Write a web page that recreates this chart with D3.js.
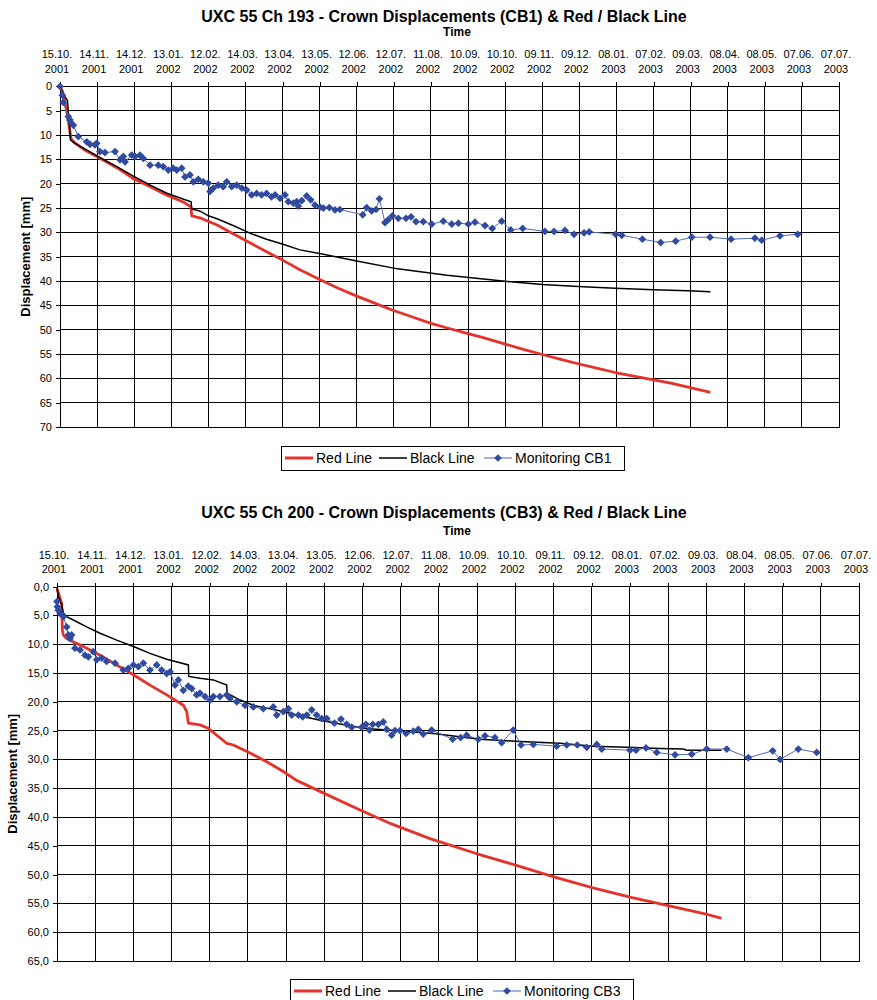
<!DOCTYPE html>
<html>
<head>
<meta charset="utf-8">
<script src="https://cdn.jsdelivr.net/npm/d3@7"></script>
<style>
body { margin: 0; background: #fff; }
svg text { font-family: "Liberation Sans", Arial, sans-serif; fill: #000; }
</style>
</head>
<body>
<div id="my_dataviz"></div>
<script>
// x axis: one tick every 30 days
var startDate = "2001-10-15";
var tickDates = ["2001-10-15", "2001-11-14", "2001-12-14", "2002-01-13", "2002-02-12",
  "2002-03-14", "2002-04-13", "2002-05-13", "2002-06-12", "2002-07-12", "2002-08-11",
  "2002-09-10", "2002-10-10", "2002-11-09", "2002-12-09", "2003-01-08", "2003-02-07",
  "2003-03-09", "2003-04-08", "2003-05-08", "2003-06-07", "2003-07-07"];
var yTicks1 = [0, 5, 10, 15, 20, 25, 30, 35, 40, 45, 50, 55, 60, 65, 70];
var yTicks2 = [0, 5, 10, 15, 20, 25, 30, 35, 40, 45, 50, 55, 60, 65];

// * Ch 193 / CB1  (days after 15.10.2001, displacement in mm)
var redDays1 = [0, 2, 5, 7, 9, 12, 19, 32, 46, 59, 73, 86, 100, 106, 106.5, 113, 127, 140, 154, 167,
  180, 194, 210, 225, 241, 255, 268, 285, 300, 314, 327, 343, 358, 374, 390, 405, 419, 434, 449, 465,
  480, 494, 508, 526];
var redMm1 = [0, 1, 4.5, 7.5, 10.8, 11.6, 12.9, 14.7, 16.7, 18.9, 20.6, 22.3, 23.8, 24.8, 26.6, 27.0, 28.5, 30.3, 32.2, 34.0,
  35.7, 37.7, 39.7, 41.5, 43.2, 44.6, 45.9, 47.4, 48.7, 49.7, 50.6, 51.7, 52.8, 54.0, 55.1, 56.1, 57.0, 57.9, 58.8, 59.6,
  60.3, 61.0, 61.8, 62.9];

var blackDays1 = [0, 1, 4, 6, 8.5, 12, 19, 32, 46, 59, 73, 86, 100, 106, 106.5, 113, 120, 127, 140, 154,
  167, 181, 194, 211, 240, 273, 313, 358, 390, 419, 449, 480, 508, 526];
var blackMm1 = [0, 0.6, 2.1, 2.9, 11.0, 11.7, 12.7, 14.6, 16.5, 18.4, 20.3, 21.9, 23.2, 23.7, 25.2, 25.6, 26.6, 27.2, 28.6, 30.2,
  31.4, 32.5, 33.6, 34.4, 35.9, 37.5, 38.8, 40.0, 40.7, 41.1, 41.5, 41.8, 42.0, 42.2];

var cb1Days = [0, 1.9, 2.7, 6.7, 8, 9.4, 10.8, 14.8, 21.6, 24.3, 28.3, 29.7, 32.3, 36.4, 44.5, 48.5, 51.2, 52.6,
  58, 60.7, 64.7, 67.4, 72.8, 79.5, 83.5, 87.6, 91.6, 94.4, 98.4, 101.1, 105.1, 107.8, 111.8, 115.9, 119.9,
  121.3, 124, 128, 132, 134.8, 138.9, 142.9, 147, 151, 155, 159, 163, 167, 171, 174, 178, 182, 184.6, 188.7,
  191.4, 192.7, 195.5, 199.5, 202.7, 206.2, 210.3, 213, 217.8, 222.4, 226.4, 244.8, 248, 252, 255.6, 258.3,
  262.8, 265.5, 268.8, 273.6, 279.8, 283.9, 287.9, 293.8, 300.6, 310, 316.8, 322.2, 330.2, 335.6, 343.7,
  349.6, 357.2, 364.5, 374.2, 392.2, 399.5, 408.4, 415.7, 423.8, 428, 449.4, 454.3, 471, 485.8, 497.9,
  510.9, 525.7, 542.7, 562, 567.5, 582.3, 596.6];
var cb1Mm = [0, 1.8, 3.3, 6.2, 6.9, 7.6, 8.0, 10.3, 11.4, 11.9, 12.0, 11.7, 13.4, 13.6, 13.4, 15.1, 14.4, 15.5,
  14.1, 14.4, 14.1, 14.8, 16.2, 16.2, 16.5, 17.2, 16.8, 17.2, 16.8, 18.6, 18.2, 19.6, 19.1, 19.6, 19.9,
  21.6, 20.9, 20.3, 20.6, 19.6, 20.6, 20.3, 20.9, 21.3, 22.3, 22.0, 22.3, 22.0, 22.7, 22.3, 23.0, 22.3, 23.7, 24.0,
  23.7, 24.6, 23.5, 22.5, 23.3, 24.4, 24.8, 25.0, 24.9, 25.4, 25.3, 26.4, 24.9, 25.6, 25.3, 23.1,
  28.0, 27.4, 26.6, 27.1, 27.1, 26.8, 27.8, 27.8, 28.3, 27.7, 28.3, 28.1, 28.3, 27.9, 28.6,
  29.2, 27.7, 29.5, 29.2, 29.8, 29.8, 29.6, 30.4, 30.1, 29.9, 30.4, 30.6, 31.4, 32.1, 31.8,
  31.0, 31.0, 31.4, 31.2, 31.6, 30.7, 30.4];

// * Ch 200 / CB3
var redDays2 = [0, 2.4, 3.7, 4.2, 5, 7.6, 12.8, 20.7, 33.8, 46.9, 60, 73, 86.2, 99.3, 101.9, 103.2, 112.3, 118.8,
  133.3, 138.5, 151.6, 164.7, 177.8, 187.8, 209.9, 236.3, 262.7, 293.5, 328.7, 359.5, 390.3, 421, 451.8,
  482.7, 509, 522];
var redMm2 = [0.3, 2.0, 2.9, 7.5, 8.4, 9.0, 9.6, 10.4, 11.9, 13.6, 15.3, 17.1, 18.8, 20.6, 21.7, 23.7, 24.0, 24.6,
  27.2, 27.5, 28.9, 30.4, 32.1, 33.6, 35.9, 38.6, 41.2, 43.8, 46.3, 48.3, 50.4, 52.3, 54.0,
  55.5, 56.8, 57.6];

var blackDays2 = [0, 1, 3.7, 5, 7.6, 15.5, 23.3, 33.8, 46.9, 60, 73, 86.2, 103.2, 103.5, 112.3, 122.8, 133.3, 133.6,
  143.8, 154.2, 164.7, 177.8, 188.3, 206.6, 240.6, 295.6, 332.3, 363.7, 395, 421.3, 447.5, 473.7, 492, 494.6, 522];
var blackMm2 = [0.3, 1.7, 3.2, 4.6, 5.2, 6.1, 7.0, 8.1, 9.3, 10.4, 11.6, 12.6, 13.6, 15.6, 15.9, 16.2, 17.1, 18.5,
  19.7, 20.6, 21.1, 21.7, 22.3, 23.2, 24.6, 25.5, 26.5, 26.9, 27.2, 27.7, 27.9, 28.1, 28.2, 28.4, 28.4];

var cb3Days = [0, 0.3, 1, 2.4, 3.7, 5, 7.6, 8.9, 10.2, 11.5, 14.1, 18.1, 22, 24.6, 28.5, 31.2, 35.1, 39, 45.6,
  52.1, 56, 60, 63.9, 67.8, 73, 78.3, 82.2, 86.2, 88.8, 92.7, 95.3, 99.2, 103.1, 105.8, 109.7, 112.3, 116.3,
  120.2, 122.8, 128, 133.3, 135.9, 141.2, 147.7, 154.2, 162.1, 169.9, 172.6, 177.8, 181.7, 184.4, 189.6, 193,
  196.2, 200.1, 204, 208, 211.9, 217.9, 223.1, 227.6, 231.5, 239.4, 242.7, 245.4, 248, 252.4, 256.3, 259,
  262.9, 265.5, 269.4, 274.2, 279.9, 283.8, 287.7, 294.3, 310.8, 317.1, 321.8, 330.9, 336.2, 344, 349.3,
  358.4, 364.5, 374.2, 392.5, 400.4, 408.7, 416.1, 424, 427.9, 450.1, 454.8, 462.7, 471.1, 485.5, 498.6,
  510.4, 526.1, 543.1, 562.2, 568, 582.3, 596.8];
var cb3Mm = [2.6, 3.5, 4.1, 4.6, 4.9, 5.2, 7.0, 8.4, 9.0, 8.4, 10.7, 11.0, 11.9, 12.2, 11.3, 12.7, 12.4, 13.0, 13.3,
  14.5, 14.2, 13.6, 13.9, 13.3, 14.5, 13.6, 14.5, 15.1, 14.8, 17.1, 16.2, 18.0, 17.3, 17.7, 18.8, 18.5, 19.1,
  19.7, 19.1, 19.1, 18.8, 19.4, 20.0, 20.6, 20.9, 21.2, 20.9, 22.3, 21.7, 21.2, 22.3, 22.3, 22.6,
  22.3, 21.4, 22.3, 22.9, 22.9, 23.7, 23.0, 23.9, 24.4, 24.4, 23.9, 24.9, 23.9, 23.9, 23.5, 24.8,
  25.8, 25.0, 25.0, 25.5, 25.1, 24.8, 25.6, 24.9, 26.5, 26.2, 25.8, 26.5, 25.9, 26.2, 27.1,
  24.9, 27.5, 27.4, 27.7, 27.5, 27.5, 27.9, 27.4, 28.2, 28.4, 28.4, 28.0, 28.8, 29.2, 29.1,
  28.2, 28.2, 29.7, 28.5, 30.0, 28.2, 28.8];

var RED = "#e5322a", BLUE = "#2f4a9f", BLUE_LINE = "#5069bb";

var svg = d3.select("#my_dataviz")
  .append("svg")
  .attr("width", 877)
  .attr("height", 1000);

var parse = d3.utcParse("%Y-%m-%d");
var t0 = parse(startDate);
function toDate(d) { return new Date(t0.getTime() + d * 864e5); }

function drawChart(cfg) {
  var g = svg.append("g");
  var xTicks = tickDates.map(parse);

  var x = d3.scaleUtc()
    .domain([xTicks[0], xTicks[xTicks.length - 1]])
    .range([cfg.left, cfg.right]);
  var y = d3.scaleLinear()
    .domain([0, cfg.yTicks[cfg.yTicks.length - 1]])
    .range([cfg.top, cfg.bottom]);

  // grid
  g.append("g").selectAll("line").data(xTicks).join("line")
    .attr("x1", d => x(d)).attr("x2", d => x(d))
    .attr("y1", cfg.top).attr("y2", cfg.bottom)
    .attr("stroke", "#000").attr("shape-rendering", "crispEdges");
  g.append("g").selectAll("line").data(cfg.yTicks).join("line")
    .attr("x1", cfg.left).attr("x2", cfg.right)
    .attr("y1", d => y(d)).attr("y2", d => y(d))
    .attr("stroke", "#000").attr("shape-rendering", "crispEdges");

  // axes
  var xAxis = g.append("g")
    .attr("transform", "translate(0," + cfg.top + ")")
    .call(d3.axisTop(x).tickValues(xTicks).tickSize(4).tickSizeOuter(0).tickFormat(""));
  xAxis.select(".domain").remove();
  xAxis.selectAll("line").attr("shape-rendering", "crispEdges");

  var yAxis = g.append("g")
    .attr("transform", "translate(" + cfg.left + ",0)")
    .call(d3.axisLeft(y).tickValues(cfg.yTicks).tickSize(4).tickSizeOuter(0).tickPadding(4)
      .tickFormat(cfg.yFormat));
  yAxis.select(".domain").remove();
  yAxis.selectAll("line").attr("shape-rendering", "crispEdges");
  yAxis.selectAll("text").style("font-size", "11px").attr("fill", "#000");

  var fmtDay = d3.utcFormat("%d.%m."), fmtYear = d3.utcFormat("%Y");
  var lab = g.append("g").selectAll("text").data(xTicks).join("text")
    .attr("text-anchor", "middle")
    .style("font-size", "11px");
  lab.append("tspan").attr("x", d => x(d) - 3).attr("y", cfg.tickY1).attr("dy", "0.35em").text(fmtDay);
  lab.append("tspan").attr("x", d => x(d) - 3).attr("y", cfg.tickY2).attr("dy", "0.35em").text(fmtYear);

  g.append("rect")
    .attr("x", cfg.left).attr("y", cfg.top)
    .attr("width", cfg.right - cfg.left).attr("height", cfg.bottom - cfg.top)
    .attr("fill", "none").attr("stroke", "#000").attr("shape-rendering", "crispEdges");

  // series
  var line = d3.line().x(d => x(toDate(d[0]))).y(d => y(d[1]));
  g.append("path").datum(d3.zip(cfg.redDays, cfg.redMm))
    .attr("d", line).attr("fill", "none").attr("stroke", RED).attr("stroke-width", 2.8)
    .attr("stroke-linejoin", "round");
  g.append("path").datum(d3.zip(cfg.blackDays, cfg.blackMm))
    .attr("d", line).attr("fill", "none").attr("stroke", "#000").attr("stroke-width", 1.5);
  var mon = d3.zip(cfg.monDays, cfg.monMm);
  g.append("path").datum(mon)
    .attr("d", line).attr("fill", "none").attr("stroke", BLUE_LINE).attr("stroke-width", 1);
  var diamond = d3.symbol(d3.symbolSquare, 30);
  g.append("g").selectAll("path").data(mon).join("path")
    .attr("d", diamond)
    .attr("transform", d => "translate(" + x(toDate(d[0])) + "," + y(d[1]) + ") rotate(45)")
    .attr("fill", BLUE);

  // titles
  g.append("text")
    .attr("x", 444).attr("y", cfg.titleY).attr("dy", "0.35em")
    .attr("text-anchor", "middle")
    .style("font-size", "16px").style("font-weight", "bold")
    .text(cfg.title);
  g.append("text")
    .attr("x", 457).attr("y", cfg.timeY).attr("dy", "0.35em")
    .attr("text-anchor", "middle")
    .style("font-size", "12px").style("font-weight", "bold")
    .text("Time");
  g.append("text")
    .attr("transform", "translate(" + cfg.yLabelX + "," + (cfg.top + cfg.bottom) / 2 + ") rotate(-90)")
    .attr("dy", "0.35em")
    .attr("text-anchor", "middle")
    .style("font-size", "13px").style("font-weight", "bold")
    .text("Displacement [mm]");

  // legend
  var lg = g.append("g").attr("transform", "translate(" + cfg.legendX + "," + cfg.legendY + ")");
  lg.append("rect").attr("width", 343).attr("height", 24)
    .attr("fill", "#fff").attr("stroke", "#000").attr("shape-rendering", "crispEdges");
  var items = [
    {x: 4, label: "Red Line", color: RED, w: 3},
    {x: 98, label: "Black Line", color: "#000", w: 1.5},
    {x: 203, label: cfg.monLabel, color: BLUE_LINE, w: 1}
  ];
  items.forEach(function(it, i) {
    lg.append("line").attr("x1", it.x).attr("x2", it.x + 28).attr("y1", 12).attr("y2", 12)
      .attr("stroke", it.color).attr("stroke-width", it.w);
    if (i == 2) {
      lg.append("path").attr("d", diamond)
        .attr("transform", "translate(" + (it.x + 14) + ",12) rotate(45)").attr("fill", BLUE);
    }
    lg.append("text").attr("x", it.x + 31).attr("y", 12).attr("dy", "0.35em")
      .style("font-size", "14px").text(it.label);
  });
}

drawChart({
  left: 60, right: 839, top: 86.4, bottom: 427,
  yTicks: yTicks1, yFormat: d3.format("d"),
  titleY: 16, timeY: 32, tickY1: 54, tickY2: 69, yLabelX: 25,
  legendX: 281, legendY: 446,
  title: "UXC 55 Ch 193 - Crown Displacements (CB1) & Red / Black Line",
  monLabel: "Monitoring CB1",
  redDays: redDays1, redMm: redMm1, blackDays: blackDays1, blackMm: blackMm1,
  monDays: cb1Days, monMm: cb1Mm
});

drawChart({
  left: 57, right: 859, top: 586.6, bottom: 961,
  yTicks: yTicks2, yFormat: d => d3.format(".1f")(d).replace(".", ","),
  titleY: 512, timeY: 531, tickY1: 555, tickY2: 569, yLabelX: 12,
  legendX: 290, legendY: 979,
  title: "UXC 55 Ch 200 - Crown Displacements (CB3) & Red / Black Line",
  monLabel: "Monitoring CB3",
  redDays: redDays2, redMm: redMm2, blackDays: blackDays2, blackMm: blackMm2,
  monDays: cb3Days, monMm: cb3Mm
});
</script>
</body>
</html>
